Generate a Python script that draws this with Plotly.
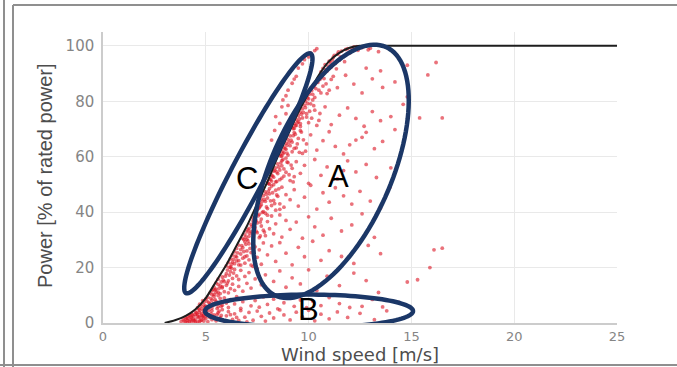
import numpy as np
import plotly.graph_objects as go

# ---------------- data ----------------
# manufacturer power curve (wind speed m/s, % rated power)
curve_ws = [3, 3.5, 4, 4.5, 5, 5.5, 6, 6.5, 7, 7.5, 8, 8.5, 9, 9.5, 10, 10.5, 11, 11.5, 12, 12.5, 13, 25]
curve_pw = [0, 1, 2.5, 5, 9, 15, 21, 28, 35, 43, 51, 60, 68, 76, 83, 89.5, 94.5, 97.5, 99.3, 100, 100, 100]

# measured SCADA points, grouped by power band (wind speed, power)
obs_0_5 = [(3.8,0.5),(3.9,1.2),(4.0,0.3),(4.0,2.1),(4.1,1.0),(4.2,2.8),(4.2,0.6),(4.3,1.8),(4.3,3.5),(4.4,0.9),
           (4.4,2.5),(4.5,4.0),(4.5,1.4),(4.6,3.1),(4.6,0.4),(4.7,2.2),(4.7,4.6),(4.8,1.1),(4.8,3.4),(4.9,0.7),
           (4.9,2.7),(5.0,4.2),(5.0,1.6),(5.1,3.0),(5.1,0.5),(5.2,2.0),(5.3,4.4),(5.3,1.2),(5.4,2.9),(5.5,0.8),
           (5.6,3.7),(5.7,1.9),(5.8,4.8),(5.9,0.6),(6.0,2.6),(6.1,4.1),(6.3,1.3),(6.4,3.3),(6.6,0.9),(6.7,4.5),
           (6.9,2.1),(7.1,3.8),(7.3,1.0),(7.5,4.3),(7.7,2.4),(7.9,0.7),(8.1,3.6),(8.3,1.8),(8.6,4.7),(8.8,2.9),
           (9.1,1.1),(9.4,3.9),(9.7,2.2),(10.0,4.6),(10.3,0.8),(10.6,3.2),(11.0,1.5),(11.4,4.0),(11.9,2.0),
           (12.5,3.5),(13.2,1.2),(13.8,4.4),
           (4.05,1.5),(4.15,2.4),(4.25,1.1),(4.35,2.9),(4.45,0.8),(4.55,3.6),(4.65,1.9),(4.75,0.9),(4.85,2.3),
           (4.95,3.9),(4.1,0.2),(4.3,0.4),(4.5,0.3),(4.7,0.6),(4.9,1.8),(5.05,2.6),(5.25,3.4),(5.45,1.7),
           (3.95,0.8),(4.12,1.7),(4.28,2.3),(4.38,1.4),(4.48,3.1),(4.58,2.5),(4.68,3.9),(4.78,2.8),(4.88,4.4),
           (4.98,3.2),(5.15,4.6),(5.35,2.4),(5.55,3.1),(5.65,4.3),(5.75,2.7),(6.2,3.0),(6.5,2.0),(7.0,0.4)]
obs_5_10 = [(4.6,5.5),(4.7,6.8),(4.8,5.2),(4.9,7.5),(5.0,6.1),(5.0,8.7),(5.1,5.8),(5.1,9.3),(5.2,7.0),(5.3,5.4),
            (5.3,8.2),(5.4,6.6),(5.4,9.6),(5.5,7.8),(5.6,5.9),(5.7,8.9),(5.8,6.4),(5.9,9.1),(6.0,7.2),(6.1,5.6),
            (6.2,8.4),(6.4,6.9),(6.5,9.5),(6.7,5.3),(6.8,7.7),(7.0,9.0),(7.2,6.2),(7.4,8.1),(7.6,5.7),(7.8,9.4),
            (8.0,6.7),(8.3,8.6),(8.5,5.1),(8.8,7.3),(9.0,9.8),(9.3,6.0),(9.6,8.3),(9.9,5.5),(10.2,7.9),(10.6,6.3),
            (11.0,9.2),(11.5,7.0),(12.0,5.6),(12.6,6.0),(13.1,8.5),(13.6,5.8),(14.4,7.4),
            (4.75,6.2),(4.85,8.1),(4.95,5.7),(5.15,7.4),(5.35,6.9),(5.55,5.2),(5.65,7.1),
            (4.65,5.1),(4.9,6.4),(5.05,7.9),(5.25,8.8),(5.45,8.4),(5.6,9.9),(5.75,6.0),(5.95,8.0)]
obs_10_20 = [(5.2,10.8),(5.3,11.6),(5.4,13.0),(5.4,10.3),(5.5,12.2),(5.5,14.5),(5.6,11.1),(5.6,15.8),(5.7,13.4),
             (5.7,10.6),(5.8,16.6),(5.8,12.7),(5.9,14.9),(5.9,11.3),(6.0,17.8),(6.0,13.6),(6.1,15.2),(6.1,10.9),
             (6.2,18.5),(6.2,12.4),(6.3,16.1),(6.3,14.0),(6.4,19.3),(6.4,11.8),(6.5,17.0),(6.6,13.2),(6.6,15.7),
             (6.7,19.0),(6.8,11.5),(6.9,16.8),(7.0,14.3),(7.1,18.2),(7.2,12.6),(7.4,15.9),(7.5,19.6),(7.7,13.8),
             (7.9,17.4),(8.1,11.2),(8.3,15.0),(8.6,18.8),(8.9,12.9),(9.2,16.3),(9.6,14.1),(10.0,19.2),(10.4,11.7),
             (10.9,16.9),(11.5,13.5),(12.2,18.0),(12.8,15.3),(13.4,11.0),(14.8,14.8),(15.3,15.6),
             (5.3,10.2),(5.35,12.1),(5.5,11.0),(5.6,13.9),(5.65,12.5),(5.75,14.8),(5.85,15.5),(5.95,16.9),
             (6.05,14.4),(6.15,17.3),(6.25,19.8),(6.35,18.0),(5.45,11.9),(5.8,13.1),(6.05,19.1)]
obs_20_30 = [(6.0,20.6),(6.1,21.8),(6.2,23.1),(6.2,20.2),(6.3,24.5),(6.3,22.0),(6.4,25.7),(6.4,21.4),(6.5,23.8),
             (6.5,26.9),(6.6,22.5),(6.6,28.1),(6.7,24.9),(6.7,20.9),(6.8,27.2),(6.8,23.4),(6.9,29.3),(6.9,21.6),
             (7.0,26.0),(7.0,24.2),(7.1,28.6),(7.1,22.8),(7.2,25.4),(7.3,29.8),(7.3,20.4),(7.4,27.5),(7.5,23.7),
             (7.6,26.4),(7.7,21.2),(7.8,28.9),(8.0,24.6),(8.2,27.8),(8.4,22.2),(8.6,29.0),(8.9,25.2),(9.2,21.0),
             (9.5,27.3),(9.8,23.9),(10.2,29.5),(10.6,22.6),(11.0,26.1),(11.6,24.0),(12.2,21.5),(12.9,28.0),
             (13.5,25.0),(16.1,26.4),(16.5,27.0),(15.9,20.0),
             (6.15,20.1),(6.25,21.2),(6.35,23.0),(6.45,24.1),(6.55,25.3),(6.6,21.0),(6.7,26.5),(6.75,27.9),
             (6.85,25.8),(6.95,28.4),(7.05,29.6),(6.5,22.4),(6.9,23.9),(7.15,26.9),(7.2,20.9)]
obs_30_40 = [(6.8,30.5),(6.9,31.8),(7.0,32.9),(7.0,30.2),(7.1,34.1),(7.1,31.3),(7.2,35.6),(7.2,33.0),(7.3,36.8),
             (7.3,31.9),(7.4,34.4),(7.4,38.0),(7.5,32.6),(7.5,36.1),(7.6,39.2),(7.6,30.8),(7.7,35.0),(7.7,37.5),
             (7.8,33.5),(7.9,39.6),(7.9,31.5),(8.0,36.6),(8.1,34.0),(8.2,38.6),(8.3,32.2),(8.4,35.8),(8.6,39.0),
             (8.7,31.0),(8.9,37.0),(9.1,33.8),(9.4,36.4),(9.7,30.6),(10.0,38.3),(10.3,34.7),(10.7,31.7),
             (11.1,37.8),(11.6,33.2),(12.1,35.4),(12.6,39.4),(13.2,30.9),
             (6.85,30.1),(6.95,31.0),(7.05,33.6),(7.15,32.4),(7.25,34.9),(7.3,37.9),(7.35,35.7),(7.45,36.9),
             (7.55,38.7),(7.65,36.4),(7.75,39.9),(7.45,33.1),(7.85,32.8),(8.0,38.9),(7.65,31.4)]
obs_40_50 = [(7.4,40.5),(7.5,42.0),(7.5,40.9),(7.6,43.4),(7.6,41.6),(7.7,44.8),(7.7,42.7),(7.8,46.0),(7.8,40.2),
             (7.9,47.3),(7.9,43.9),(8.0,45.1),(8.0,41.3),(8.1,48.5),(8.1,46.6),(8.2,42.4),(8.2,49.4),(8.3,44.2),
             (8.4,47.9),(8.4,40.7),(8.5,45.7),(8.6,43.0),(8.7,49.0),(8.8,41.8),(8.9,46.3),(9.1,44.5),(9.3,48.1),
             (9.5,42.2),(9.8,45.4),(10.1,49.7),(10.4,41.1),(10.7,47.0),(11.0,43.6),(11.3,48.8),(11.7,45.9),
             (12.1,42.9),(12.5,47.5),(13.0,44.0),(13.5,41.5),(13.96,49.0),
             (7.45,40.1),(7.55,41.3),(7.65,42.2),(7.75,43.9),(7.85,44.6),(7.95,46.5),(8.05,47.6),(8.15,44.1),
             (8.25,47.0),(8.3,49.9),(8.45,46.2),(8.55,48.4),(7.95,41.9),(8.35,43.1),(8.6,41.0)]
obs_50_60 = [(8.0,50.6),(8.1,52.0),(8.1,50.1),(8.2,53.4),(8.2,51.2),(8.3,54.8),(8.3,52.6),(8.4,56.0),(8.4,50.9),
             (8.5,57.4),(8.5,53.9),(8.6,55.2),(8.6,51.7),(8.7,58.6),(8.7,56.7),(8.8,53.0),(8.9,59.5),(8.9,54.4),
             (9.0,57.9),(9.1,51.4),(9.2,55.8),(9.3,52.8),(9.4,58.2),(9.6,54.0),(9.8,56.9),(10.0,50.4),(10.3,59.0),
             (10.6,53.3),(10.9,56.3),(11.2,51.9),(11.4,52.0),(11.7,55.0),(11.9,58.5),(12.3,54.5),(12.8,57.2),
             (13.3,52.5),(14.0,56.0),
             (8.05,50.3),(8.15,51.7),(8.25,53.0),(8.35,55.1),(8.45,54.5),(8.55,56.3),(8.65,57.8),(8.75,59.0),
             (8.8,55.6),(8.95,58.1),(9.05,53.5),(8.45,51.1),(8.7,52.3),(9.15,57.0),(9.25,50.9)]
obs_60_70 = [(8.6,60.8),(8.7,62.1),(8.7,60.3),(8.8,63.5),(8.8,61.5),(8.9,64.9),(8.9,62.7),(9.0,66.2),(9.0,60.6),
             (9.1,67.5),(9.1,64.0),(9.2,65.3),(9.2,61.8),(9.3,68.7),(9.4,63.2),(9.5,66.6),(9.6,69.4),(9.7,61.2),
             (9.9,64.6),(10.1,67.9),(10.4,62.4),(10.7,65.8),(11.0,69.0),(11.3,63.7),(11.7,61.0),(12.0,64.3),
             (12.3,66.0),(12.6,67.0),(12.8,68.8),(13.2,62.9),(13.6,65.5),(14.2,69.8),
             (8.65,60.2),(8.75,61.1),(8.85,62.9),(8.95,64.1),(9.05,65.2),(9.15,66.0),(9.25,67.6),(9.35,68.1),
             (9.45,64.6),(9.55,61.6),(8.95,61.3),(9.3,63.0),(9.75,66.1),(9.85,62.0),(9.65,68.9),
             (8.2,66.0),(8.35,69.5)]
obs_70_80 = [(9.2,70.7),(9.3,72.0),(9.3,70.2),(9.4,73.4),(9.4,71.3),(9.5,74.8),(9.5,72.6),(9.6,76.1),(9.6,70.9),
             (9.7,77.3),(9.7,74.0),(9.8,78.6),(9.9,75.5),(10.0,72.3),(10.1,79.1),(10.3,76.8),(10.5,73.1),
             (10.8,78.0),(11.1,71.6),(11.5,75.0),(11.9,77.6),(12.3,73.8),(12.7,71.0),(13.1,76.3),(13.5,73.0),
             (14.0,74.5),(14.6,78.9),(15.4,74.0),(16.5,74.0),(8.6,72.0),(8.9,75.5),(9.0,78.5),
             (9.25,70.1),(9.35,71.2),(9.45,72.3),(9.55,73.6),(9.65,75.3),(9.75,76.0),(9.85,77.7),(9.95,79.2),
             (10.05,76.4),(10.15,73.9),(9.6,71.9),(10.25,78.4),(10.4,71.3),(9.9,74.3),(10.55,75.6),
             (8.4,74.5),(8.7,78.0)]
obs_80_90 = [(9.8,80.6),(9.9,82.0),(10.0,83.3),(10.0,80.9),(10.1,84.7),(10.2,82.5),(10.3,86.0),(10.3,81.4),
             (10.4,87.3),(10.5,84.0),(10.6,88.6),(10.7,85.5),(10.9,82.8),(11.1,87.9),(11.4,84.9),(11.8,89.4),
             (12.2,86.2),(12.6,83.0),(13.1,88.1),(13.6,85.0),(14.2,87.0),(14.8,81.6),(8.75,80.5),(9.0,84.0),
             (9.2,86.5),(9.4,89.0),(15.8,89.5),
             (9.85,80.1),(9.95,81.3),(10.05,82.6),(10.15,83.9),(10.25,85.3),(10.35,84.6),(10.45,86.8),
             (10.55,87.9),(10.65,89.3),(10.75,88.2),(10.85,86.3),(11.0,84.0),(10.2,80.5),(11.2,89.0),(10.6,83.0),
             (8.9,82.0),(9.3,88.0)]
obs_90_100 = [(10.6,90.6),(10.7,91.9),(10.8,93.2),(10.9,90.9),(11.0,94.5),(11.1,92.4),(11.2,95.8),(11.3,93.6),
              (11.4,97.0),(11.5,94.9),(11.6,98.1),(11.7,96.2),(11.9,99.0),(12.0,97.4),(12.2,99.6),(12.4,98.4),
              (12.7,99.8),(13.0,99.1),(13.4,97.9),(13.8,99.5),(14.3,96.6),(14.8,93.0),(12.8,92.0),(13.5,91.0),
              (9.5,92.0),(9.8,95.0),(10.1,97.5),(10.4,99.0),(16.2,94.0),
              (10.75,90.2),(10.85,91.4),(10.95,92.7),(11.05,93.9),(11.15,94.9),(11.25,96.6),(11.45,97.8),
              (11.55,96.0),(11.8,98.7),(12.1,99.2),(12.35,99.7),(12.6,99.4),(11.35,91.7),(11.75,94.3),(12.9,98.6),
              (9.7,93.5),(10.0,96.0),(10.3,98.3)]

x_ticks = [0, 5, 10, 15, 20, 25]
y_ticks = [0, 20, 40, 60, 80, 100]
x_title = "Wind speed [m/s]"
y_title = "Power [% of rated power]"

# annotation ellipses: label, centre (data), semi-axes (px), tilt (deg), label position (data)
ellipse_labels = ["A", "B", "C"]
ellipse_cx = [11.09, 10.02, 7.07]
ellipse_cy = [54.7, 4.3, 54.0]
ellipse_a_px = [136, 104, 135]
ellipse_b_px = [60, 16.5, 17]
ellipse_tilt = [66.1, 0.0, 62.5]
label_x = [11.43, 10.0, 7.0]
label_y = [52.8, 4.7, 52.3]

# ---------------- figure ----------------
W, H = 677, 367
ML, MR, MT, MB = 103, 60, 32, 44
X_RANGE = [0, 25]
Y_RANGE = [0, 105]
px_per_x = (W - ML - MR) / (X_RANGE[1] - X_RANGE[0])
px_per_y = (H - MT - MB) / (Y_RANGE[1] - Y_RANGE[0])

pts = (obs_0_5 + obs_5_10 + obs_10_20 + obs_20_30 + obs_30_40 + obs_40_50 +
       obs_50_60 + obs_60_70 + obs_70_80 + obs_80_90 + obs_90_100)
ws = [p[0] for p in pts]
pw = [p[1] for p in pts]

fig = go.Figure()
fig.add_trace(go.Scatter(x=ws, y=pw, mode="markers",
                         marker=dict(size=3.8, color="rgba(220,20,35,0.6)", line=dict(width=0)),
                         showlegend=False, hoverinfo="skip"))
fig.add_trace(go.Scatter(x=curve_ws, y=curve_pw, mode="lines",
                         line=dict(color="#1e1e1e", width=2, shape="spline", smoothing=0.6),
                         showlegend=False, hoverinfo="skip"))

shapes = []
t = np.linspace(0, 2 * np.pi, 120)
for cx, cy, a, b, ang in zip(ellipse_cx, ellipse_cy, ellipse_a_px, ellipse_b_px, ellipse_tilt):
    th = np.radians(ang)
    dx = a * np.cos(th) * np.cos(t) - b * np.sin(th) * np.sin(t)
    dy = a * np.sin(th) * np.cos(t) + b * np.cos(th) * np.sin(t)
    xs = cx + dx / px_per_x
    ys = cy + dy / px_per_y
    path = "M " + " L ".join(f"{x:.4f},{y:.4f}" for x, y in zip(xs, ys)) + " Z"
    shapes.append(dict(type="path", xref="x", yref="y", path=path,
                       line=dict(color="#1b3767", width=4.5), layer="above"))

# outer frame lines of the figure panel (paper coords)
def px2paper_x(px):
    return (px - ML) / (W - ML - MR)

def px2paper_y(py):
    return (H - MB - py) / (H - MT - MB)

frame_col = "#8f8f8f"
shapes.append(dict(type="line", xref="paper", yref="paper",
                   x0=px2paper_x(13), x1=px2paper_x(13), y0=px2paper_y(5), y1=px2paper_y(367),
                   line=dict(color=frame_col, width=2)))
shapes.append(dict(type="line", xref="paper", yref="paper",
                   x0=px2paper_x(13), x1=px2paper_x(677), y0=px2paper_y(5), y1=px2paper_y(5),
                   line=dict(color=frame_col, width=2)))
shapes.append(dict(type="line", xref="paper", yref="paper",
                   x0=px2paper_x(0), x1=px2paper_x(677), y0=px2paper_y(365), y1=px2paper_y(365),
                   line=dict(color=frame_col, width=2)))
shapes.append(dict(type="line", xref="paper", yref="paper",
                   x0=px2paper_x(4), x1=px2paper_x(4), y0=px2paper_y(0), y1=px2paper_y(367),
                   line=dict(color=frame_col, width=2)))

annotations = []
for lab, lx, ly in zip(ellipse_labels, label_x, label_y):
    annotations.append(dict(x=lx, y=ly, xref="x", yref="y", text=lab, showarrow=False,
                            font=dict(family="Liberation Sans, Arial", size=31, color="#000000"),
                            xanchor="center", yanchor="middle"))
annotations.append(dict(x=0.5, y=px2paper_y(354), xref="paper", yref="paper", text=x_title,
                        showarrow=False, xanchor="center", yanchor="middle",
                        font=dict(family="DejaVu Sans", size=18, color="#4d4d4d")))
annotations.append(dict(x=px2paper_x(45), y=px2paper_y(176), xref="paper", yref="paper", text=y_title,
                        showarrow=False, xanchor="center", yanchor="middle", textangle=-90,
                        font=dict(family="Liberation Sans, Arial", size=20, color="#4d4d4d")))

fig.update_layout(
    width=W, height=H,
    margin=dict(l=ML, r=MR, t=MT, b=MB, pad=0),
    paper_bgcolor="white", plot_bgcolor="white",
    shapes=shapes, annotations=annotations,
    xaxis=dict(range=X_RANGE, tickvals=x_ticks, showgrid=True, gridcolor="#e9e9e9", gridwidth=1,
               zeroline=False, showline=True, linecolor="#cccccc", linewidth=1.5,
               ticks="", ticklabelstandoff=1,
               tickfont=dict(family="DejaVu Sans", size=13, color="#858585")),
    yaxis=dict(range=Y_RANGE, tickvals=y_ticks, showgrid=True, gridcolor="#e9e9e9", gridwidth=1,
               zeroline=False, showline=True, linecolor="#cccccc", linewidth=1.5,
               ticks="", ticklabelstandoff=4,
               tickfont=dict(family="DejaVu Sans", size=15, color="#858585")),
)

fig.write_html("out.html")
